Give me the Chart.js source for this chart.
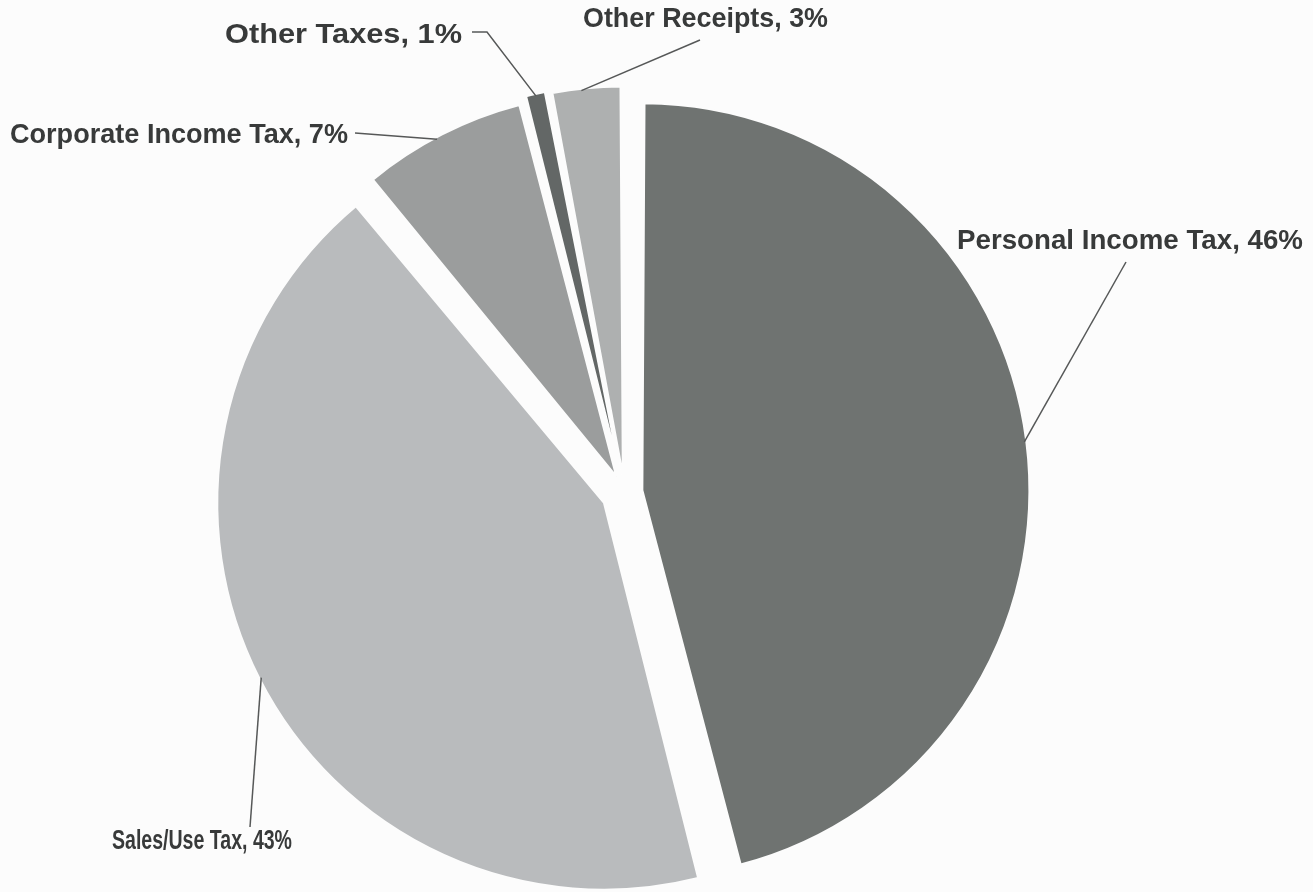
<!DOCTYPE html>
<html>
<head>
<meta charset="utf-8">
<script src="https://cdn.jsdelivr.net/npm/chart.js@4.4.1/dist/chart.umd.min.js"></script>
<style>
  html, body { margin: 0; padding: 0; background: #fcfcfc; overflow: hidden; }
  #pie { display: block; }
</style>
</head>
<body>
<canvas id="pie" width="1313" height="920"></canvas>
<script>
const categories = ["Personal Income Tax", "Sales/Use Tax", "Corporate Income Tax", "Other Taxes", "Other Receipts"];
const shares = [46, 43, 7, 1, 3];
const sliceColors = ["#6f7371", "#b9bbbd", "#9b9d9d", "#636766", "#aeb0b0"];

// how far each slice is pulled out of the pie
const explode = [72, 92, 72, 72, 72];

// callout placement: left edge / baseline / width of the text, bend points
// of the leader line, and how far along the slice rim it lands (0..1)
const callouts = [
  { x: 957, base: 249, w: 346, path: [[1126, 262]], along: 0.5 },
  { x: 112, base: 849, w: 180, path: [[250, 827]], along: 0.5 },
  { x: 10, base: 143, w: 338, path: [[355, 133]], along: 0.46 },
  { x: 225, base: 43, w: 237, path: [[472, 32], [487, 32]], along: 0.5 },
  { x: 583, base: 27, w: 245, path: [[700, 40]], along: 0.43 }
];

const calloutPlugin = {
  id: "callouts",
  afterDatasetsDraw(chart) {
    const ctx = chart.ctx;
    const arcs = chart.getDatasetMeta(0).data;
    ctx.save();
    arcs.forEach((arc, i) => {
      const c = callouts[i];
      const { x, y, startAngle, endAngle, outerRadius, circumference } =
        arc.getProps(["x", "y", "startAngle", "endAngle", "outerRadius", "circumference"], true);
      // same shift the arc element applies when it draws an exploded slice
      const shift = (arc.options.offset || 0) / 4;
      const mid = (startAngle + endAngle) / 2;
      const r = outerRadius + shift * (1 - Math.sin(Math.min(Math.PI, circumference))) - 2;
      const a = startAngle + c.along * (endAngle - startAngle);
      const ax = x + Math.cos(mid) * shift + Math.cos(a) * r;
      const ay = y + Math.sin(mid) * shift + Math.sin(a) * r;

      ctx.strokeStyle = "#565858";
      ctx.lineWidth = 1.5;
      ctx.beginPath();
      ctx.moveTo(c.path[0][0], c.path[0][1]);
      c.path.slice(1).forEach(p => ctx.lineTo(p[0], p[1]));
      ctx.lineTo(ax, ay);
      ctx.stroke();

      const text = categories[i] + ", " + shares[i] + "%";
      ctx.font = "bold 28px 'Liberation Sans', Arial, sans-serif";
      ctx.fillStyle = "#383a3a";
      ctx.textBaseline = "alphabetic";
      ctx.textAlign = "left";
      const natural = ctx.measureText(text).width;
      ctx.save();
      ctx.translate(c.x, c.base);
      ctx.scale(c.w / natural, 1);
      ctx.fillText(text, 0, 0);
      ctx.restore();
    });
    ctx.restore();
  }
};

new Chart(document.getElementById("pie").getContext("2d"), {
  type: "pie",
  data: {
    labels: categories,
    datasets: [{
      data: shares,
      backgroundColor: sliceColors,
      borderColor: "#fcfcfc",
      borderWidth: 2,
      offset: explode,
      hoverOffset: 0
    }]
  },
  options: {
    responsive: false,
    animation: false,
    layout: { padding: { left: 204, right: 268, top: 72, bottom: 7 } },
    plugins: {
      legend: { display: false },
      tooltip: { enabled: false }
    }
  },
  plugins: [calloutPlugin]
});
</script>
</body>
</html>
